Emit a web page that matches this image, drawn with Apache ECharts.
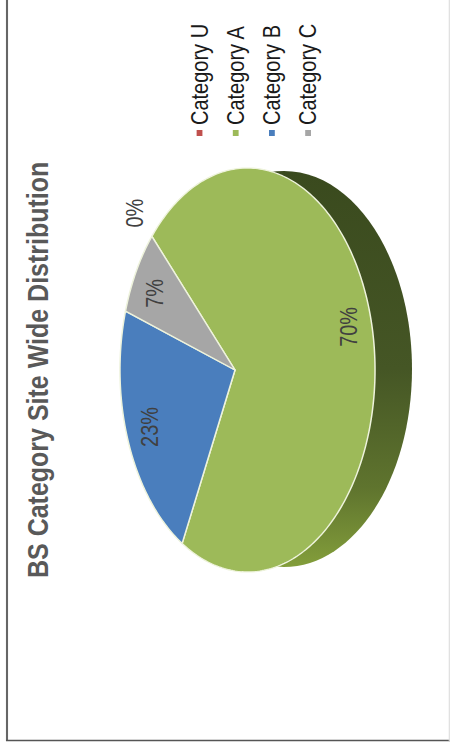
<!DOCTYPE html>
<html>
<head>
<meta charset="utf-8">
<style>
html,body{margin:0;padding:0;background:#fff;width:450px;height:749px;overflow:hidden}
/* The original chart is a landscape picture turned a quarter turn and slightly stretched */
#chart{position:absolute;left:0;top:0;width:749px;height:388px;transform-origin:0 0;transform:translate(0,749px) rotate(-90deg) scale(1,1.16)}
</style>
<script src="https://cdn.jsdelivr.net/npm/echarts@6/dist/echarts.min.js"></script>
</head>
<body>
<div id="chart"></div>
<script>
const chartTitle = 'BS Category Site Wide Distribution';
const categories = ['Category U', 'Category A', 'Category B', 'Category C'];
const values = [0, 69.6, 23, 7.4];
const percentLabels = ['0%', '70%', '23%', '7%'];
const colors = ['#C0504D', '#9DBA59', '#4A7EBD', '#A6A6A6'];

const STRETCH = 1.16;
const START_ANGLE = 45.3;
const total = values.reduce((a, b) => a + b, 0);
const cx = 379, cy = 235 / STRETCH, rx = 201, ry = 126.3 / STRETCH, persp = 0.098;

function project(deg, r) {
  const t = deg * Math.PI / 180;
  const x = r * Math.sin(t), y = -r * Math.cos(t);
  const d = 1 - persp * y;
  return [cx + rx * x / d, cy + ry * y / d];
}
function sliceStart(i) {
  let s = 0;
  for (let k = 0; k < i; k++) s += values[k];
  return START_ANGLE + s / total * 360;
}
const labelRadius = [1.205, 0.85, 0.785, 0.79];
const labelTurn = [-0.7, -4, 0, -1];

function renderSlice(params, api) {
  const i = params.seriesIndex - 1;
  const v = api.value(0);
  const a0 = sliceStart(i), sweep = v / total * 360;
  const children = [];
  if (v > 0) {
    const pts = [[cx, cy]];
    const n = Math.ceil(sweep);
    for (let k = 0; k <= n; k++) pts.push(project(a0 + sweep * k / n, 1));
    children.push({
      type: 'polygon',
      shape: { points: pts },
      style: { fill: api.visual('color'), stroke: '#EEF3DC', lineWidth: 1.3, lineJoin: 'round' }
    });
  }
  const lp = project(a0 + sweep / 2 + labelTurn[i], labelRadius[i]);
  children.push({
    type: 'text',
    z2: 10,
    style: {
      x: lp[0], y: lp[1], text: percentLabels[i],
      fill: '#404040', font: '20px "Liberation Sans", Arial, sans-serif',
      align: 'center', verticalAlign: 'middle'
    }
  });
  return { type: 'group', children };
}

function renderWall() {
  return {
    type: 'ellipse',
    shape: { cx: 380, cy: 284 / STRETCH, rx: 198, ry: 128 / STRETCH },
    style: {
      fill: {
        type: 'linear', x: 0, y: 0, x2: 1, y2: 0,
        colorStops: [
          { offset: 0, color: '#839E3B' },
          { offset: 0.2, color: '#5F742E' },
          { offset: 0.5, color: '#455625' },
          { offset: 1, color: '#3A4A1E' }
        ]
      }
    }
  };
}

const series = [{
  type: 'custom', name: 'side', coordinateSystem: 'none', silent: true,
  renderItem: renderWall, data: [[0]], z: 1
}].concat(categories.map((name, i) => ({
  type: 'custom', name, coordinateSystem: 'none', silent: true,
  itemStyle: { color: colors[i] },
  renderItem: renderSlice, data: [[values[i]]], z: 2 + i
})));

const chart = echarts.init(document.getElementById('chart'), null, { renderer: 'svg', width: 749, height: 388 });
chart.setOption({
  animation: false,
  backgroundColor: '#fff',
  title: {
    text: chartTitle,
    left: 171, top: 20,
    padding: 0,
    textStyle: { color: '#595959', fontSize: 25, fontWeight: 'bold', fontFamily: '"Liberation Sans", Arial, sans-serif' }
  },
  legend: {
    data: categories,
    orient: 'vertical',
    left: 613, top: 162,
    padding: 0,
    icon: 'rect',
    itemWidth: 6, itemHeight: 5,
    itemGap: 11.2,
    selectedMode: false,
    textStyle: { color: '#1a1a1a', fontSize: 20, fontFamily: '"Liberation Sans", Arial, sans-serif' }
  },
  graphic: { elements: [
    { type: 'line', silent: true, shape: { x1: 8, y1: 7 / STRETCH, x2: 749, y2: 7 / STRETCH }, style: { stroke: '#666', lineWidth: 1.8 } },
    { type: 'line', silent: true, shape: { x1: 8.5, y1: 6 / STRETCH, x2: 8.5, y2: 388 }, style: { stroke: '#555', lineWidth: 1.5 } },
    { type: 'line', silent: true, shape: { x1: 8, y1: 449.3 / STRETCH, x2: 749, y2: 449.3 / STRETCH }, style: { stroke: '#ddd', lineWidth: 1 } }
  ] },
  series
});
</script>
</body>
</html>
